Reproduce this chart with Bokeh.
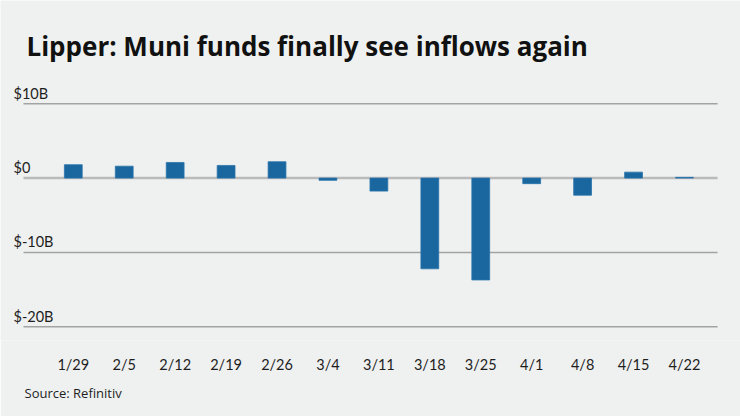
from bokeh.plotting import figure
from bokeh.models import Label, Range1d, FixedTicker, ColumnDataSource, Title
from bokeh.embed import file_html
from bokeh.resources import INLINE
from bokeh.core.properties import value

weeks = ["1/29", "2/5", "2/12", "2/19", "2/26", "3/4", "3/11", "3/18", "3/25", "4/1", "4/8", "4/15", "4/22"]
flows = [1.8, 1.6, 2.1, 1.7, 2.2, -0.3, -1.75, -12.2, -13.7, -0.75, -2.3, 0.8, 0.1]
y_ticks = [10, -10, -20]
zero_tick = [0]
y_labels = ["$10B", "$0", "$-10B", "$-20B"]
y_label_vals = [10, 0, -10, -20]

BG = "#eff1f0"
BAR = "#1a67a0"
TXT = "#1e1e1e"
FONT = "Lato"

idx = list(range(len(weeks)))

p = figure(width=740, height=416, output_backend="svg", toolbar_location=None,
           title=None, y_axis_location=None,
           x_range=Range1d(-1.4294, 13.100), y_range=Range1d(-21.84, 23.88),
           min_border_left=0, min_border_right=0, min_border_top=0, min_border_bottom=76)
p.background_fill_color = BG
p.border_fill_color = BG
p.outline_line_color = None
p.grid.visible = False

# gridlines
gx0 = -0.978
gx1 = 12.65
p.segment(x0=[gx0] * len(y_ticks), x1=[gx1] * len(y_ticks), y0=y_ticks, y1=y_ticks,
          line_color="#a3a3a3", line_width=1.5)
p.segment(x0=[gx0], x1=[gx1], y0=zero_tick, y1=zero_tick,
          line_color="#bababa", line_width=2.5)

src = ColumnDataSource(dict(x=idx, top=flows, week=weeks))
p.vbar(x="x", top="top", bottom=0, width=0.35, source=src,
       fill_color=BAR, line_color="#2a74ab", line_width=0.8)

# y labels
p.text(x=[-1.174] * len(y_labels), y=y_label_vals, text=y_labels,
       text_baseline="bottom", text_align="left", y_offset=-2,
       text_font=value(FONT), text_font_size="14.5px", text_color=TXT)

ax = p.xaxis[0]
ax.ticker = FixedTicker(ticks=idx)
ax.major_label_overrides = {i: w for i, w in zip(idx, weeks)}
ax.axis_line_color = None
ax.major_tick_line_color = None
ax.minor_tick_line_color = None
ax.major_label_standoff = 9
ax.major_label_text_font = FONT
ax.major_label_text_font_size = "14.5px"
ax.major_label_text_color = TXT

p.add_layout(Label(x=26, y=295, x_units="screen", y_units="screen",
                   text="Lipper: Muni funds finally see inflows again",
                   text_font="Open Sans", text_font_size="26px", text_font_style="bold",
                   text_color="#111111", text_baseline="alphabetic"))
p.add_layout(Title(text="Source: Refinitiv", align="left", offset=24, standoff=12,
                   text_font="Open Sans", text_font_size="13px", text_font_style="normal",
                   text_color=TXT), "below")

open("out.html", "w").write(file_html(p, INLINE))
